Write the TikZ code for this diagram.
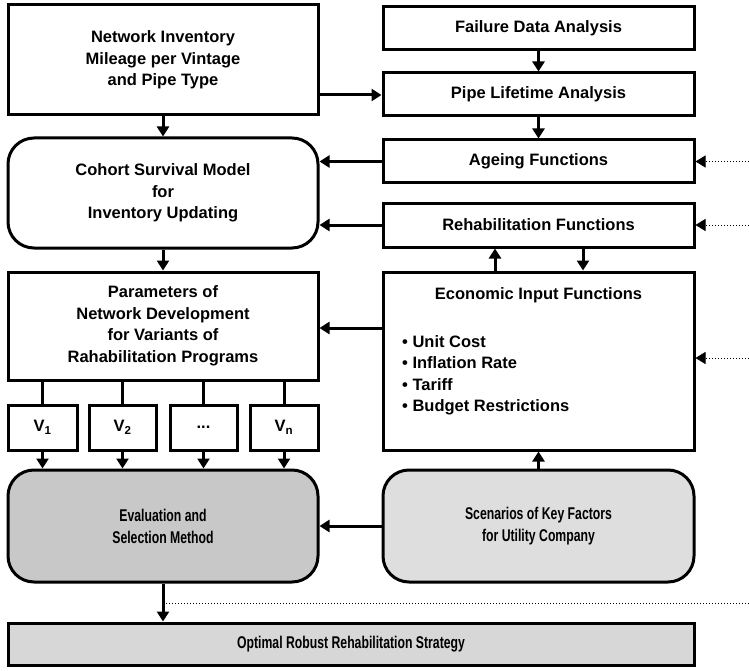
\documentclass[tikz,border=0pt]{standalone}
\usepackage{fontspec}
\setmainfont{Liberation Sans}
\newfontfamily\narrowfont[FakeStretch=0.72]{Liberation Sans}
\usetikzlibrary{arrows.meta}
\begin{document}
\begin{tikzpicture}[x=1pt,y=-1pt,
  box/.style={draw,line width=3pt,fill=white,align=center,inner sep=0pt,
    font=\bfseries\fontsize{16.5}{21.5}\selectfont},
  rbox/.style={box,rounded corners=26pt},
  nfont/.style={font=\narrowfont\bfseries\fontsize{17}{22}\selectfont},
  arr/.style={line width=3pt,-{Triangle[length=10pt,width=12pt]}},
  plain/.style={line width=3pt},
  dots/.style={line width=1pt,dotted,-{Triangle[length=10pt,width=12pt]}},
]
\useasboundingbox (0,0) rectangle (749,671);
% left column
\node[box,minimum width=310pt,minimum height=110pt] (ni) at (163,60)
  {Network Inventory\\Mileage per Vintage\\and Pipe Type};
\node[rbox,minimum width=310pt,minimum height=110pt] (cs) at (163,193)
  {Cohort Survival Model\\for\\Inventory Updating};
\node[box,minimum width=310pt,minimum height=108pt] (pn) at (163,326)
  {Parameters of\\Network Development\\for Variants of\\Rahabilitation Programs};
\node[box,minimum width=69pt,minimum height=45pt] (v1) at (42.5,427.5) {V\textsubscript{1}};
\node[box,minimum width=67pt,minimum height=45pt] (v2) at (122.5,427.5) {V\textsubscript{2}};
\node[box,minimum width=67pt,minimum height=45pt] (v3) at (203.5,427.5) {...};
\node[box,minimum width=68pt,minimum height=45pt] (vn) at (284,427.5) {V\textsubscript{n}};
\node[rbox,nfont,fill={rgb,255:red,200;green,200;blue,200},minimum width=310pt,minimum height=112pt] (ev) at (163,526)
  {Evaluation and\\Selection Method};
% right column
\node[box,minimum width=311pt,minimum height=43pt] (fd) at (538.5,28.5) {Failure Data Analysis};
\node[box,minimum width=311pt,minimum height=43pt] (pl) at (538.5,94.5) {Pipe Lifetime Analysis};
\node[box,minimum width=311pt,minimum height=43pt] (ag) at (538.5,161.5) {Ageing Functions};
\node[box,minimum width=311pt,minimum height=44pt] (rf) at (538.5,225) {Rehabilitation Functions};
\node[box,minimum width=311pt,minimum height=178pt] (ec) at (538.5,361) {};
\node[font=\bfseries\fontsize{16.5}{21.5}\selectfont,anchor=base] (ect) at (538.5,299) {Economic Input Functions};
\node[font=\bfseries\fontsize{16.5}{21.6}\selectfont,anchor=north west,align=left,inner sep=0pt] (ecl) at (402,335)
  {\textbullet\ Unit Cost\\\textbullet\ Inflation Rate\\\textbullet\ Tariff\\\textbullet\ Budget Restrictions};
\node[rbox,nfont,fill={rgb,255:red,222;green,222;blue,222},minimum width=311pt,minimum height=112pt] (sc) at (538.5,526)
  {Scenarios of Key Factors\\for Utility Company};
\node[box,nfont,fill={rgb,255:red,215;green,215;blue,215},minimum width=686pt,minimum height=42pt] (op) at (351,644)
  {Optimal Robust Rehabilitation Strategy};
% coordinates for free ends
\coordinate (d1) at (749,161.5);
\coordinate (d2) at (749,225);
\coordinate (d3) at (749,358);
\coordinate (d4) at (749,603);
% connectors
\draw[arr] (ni.east |- 0,95) -- (pl.west |- 0,95);
\draw[arr] (ni.south) -- (cs.north);
\draw[arr] (fd.south) -- (pl.north);
\draw[arr] (pl.south) -- (ag.north);
\draw[arr] (ag.west) -- (cs.east |- ag.west);
\draw[arr] (rf.west) -- (cs.east |- rf.west);
\draw[arr] (cs.south) -- (pn.north);
\draw[arr] (ec.north -| 495,0) -- (rf.south -| 495,0);
\draw[arr] (rf.south -| 583,0) -- (ec.north -| 583,0);
\draw[arr] (ec.west |- 0,328) -- (pn.east |- 0,328);
\draw[plain] (pn.south -| v1) -- (v1.north);
\draw[plain] (pn.south -| v2) -- (v2.north);
\draw[plain] (pn.south -| v3) -- (v3.north);
\draw[plain] (pn.south -| vn) -- (vn.north);
\draw[arr] (v1.south) -- (ev.north -| v1);
\draw[arr] (v2.south) -- (ev.north -| v2);
\draw[arr] (v3.south) -- (ev.north -| v3);
\draw[arr] (vn.south) -- (ev.north -| vn);
\draw[arr] (sc.north) -- (ec.south);
\draw[arr] (sc.west) -- (ev.east);
\draw[arr] (ev.south) -- (op.north -| ev.south);
\draw[line width=1pt,dotted] (ev.south |- d4) -- (d4);
\draw[dots] (d1) -- (ag.east);
\draw[dots] (d2) -- (rf.east);
\draw[dots] (d3) -- (ec.east |- d3);
\end{tikzpicture}
\end{document}
